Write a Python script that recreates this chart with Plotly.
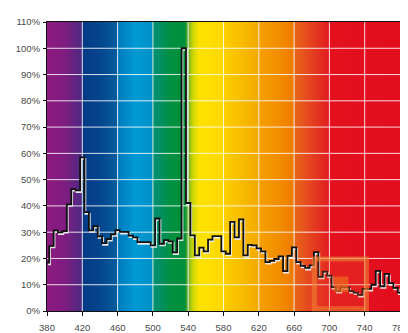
"""Spectral power distribution on a rainbow background."""

import numpy as np
import plotly.graph_objects as go

# relative intensity (%) in 5 nm bins, 380..780 nm
WAVELENGTHS = list(range(380, 781, 5))
INTENSITY = [
    18.4, 24.8, 30.7, 29.9, 30.4, 40.6, 46.4, 45.9, 58.5, 37.6,   # 380-425
    30.7, 32.3, 28.4, 25.8, 27.4, 29.2, 30.8, 30.1, 30.1, 28.7,   # 430-475
    28.0, 26.2, 26.2, 26.2, 25.0, 35.2, 25.6, 27.0, 26.5, 22.3,   # 480-525
    27.6, 100.0, 41.1, 28.8, 21.2, 24.1, 22.7, 27.2, 28.5, 28.5,  # 530-575
    22.7, 21.8, 33.9, 28.0, 34.9, 21.2, 25.2, 25.0, 23.8, 22.7,   # 580-625
    18.6, 19.1, 19.8, 20.8, 15.2, 21.0, 24.2, 18.6, 17.2, 16.4,   # 630-675
    17.4, 22.4, 13.0, 15.0, 13.5, 9.1, 7.6, 9.0, 9.0, 7.6,        # 680-725
    7.0, 6.1, 8.4, 8.4, 10.0, 15.3, 9.4, 14.1, 10.6, 8.8,         # 730-775
    7.0,                                                          # 780
]
assert len(WAVELENGTHS) == len(INTENSITY)

X_TICKS = list(range(380, 781, 40))
Y_TICKS = list(range(0, 111, 10))
Y_LABELS = [f"{v}%" for v in Y_TICKS]

# background spectrum: (nm, colour) stops, bands change at the 40 nm gridlines
SPECTRUM = [
    (380, "#8c1a80"), (400, "#801c80"), (419.4, "#4c2a82"),
    (420, "#063884"), (440, "#04458d"), (459.4, "#045c9c"),
    (460, "#0078bc"), (480, "#009ad4"), (499.4, "#0090c6"),
    (500, "#00907a"), (520, "#009040"), (536, "#008f3a"),
    (541, "#86b824"), (546, "#d2d800"), (552, "#fce200"),
    (579.4, "#ffd800"), (580, "#fdd000"), (600, "#f8bc00"),
    (619.4, "#f4a800"), (620, "#f5a000"), (640, "#f29000"),
    (659.4, "#ee7a00"), (660, "#e86818"), (680, "#e44020"),
    (699.4, "#e21c20"), (700, "#e3101e"), (780, "#e20e1e"),
]

bg_x = np.arange(380, 781, 1)
colorscale = [[(nm - 380) / 400, c] for nm, c in SPECTRUM]

fig = go.Figure()
fig.add_trace(go.Heatmap(
    x=bg_x, y=[0, 110], z=[bg_x, bg_x],
    colorscale=colorscale, zmin=380, zmax=780,
    showscale=False, hoverinfo="skip",
))

# white grid drawn over the background (heatmap hides the normal grid)
gx, gy = [], []
for t in X_TICKS[1:-1]:
    gx += [t, t, None]
    gy += [0, 110, None]
for t in Y_TICKS[1:-1]:
    gx += [380, 780, None]
    gy += [t, t, None]
fig.add_trace(go.Scatter(
    x=gx, y=gy, mode="lines", line=dict(color="rgba(255,255,255,0.85)", width=1),
    hoverinfo="skip", showlegend=False,
))

# light drop shadow under the step line
fig.add_trace(go.Scatter(
    x=[w + 1.0 for w in WAVELENGTHS], y=[v - 0.6 for v in INTENSITY],
    mode="lines", line=dict(color="rgba(240,240,240,0.95)", width=1.8, shape="hvh"),
    hoverinfo="skip", showlegend=False,
))
fig.add_trace(go.Scatter(
    x=WAVELENGTHS, y=INTENSITY,
    mode="lines", line=dict(color="#111111", width=1.8, shape="hvh"),
    hovertemplate="%{x} nm<br>%{y:.1f}%<extra></extra>", showlegend=False,
))

# partial logo in the lower right corner
fig.add_shape(type="rect", xref="paper", yref="paper", x0=0.757, x1=0.905, y0=0.008, y1=0.18,
              line=dict(color="rgba(240,130,50,0.6)", width=5),
              fillcolor="rgba(230,90,40,0.22)", layer="above")
fig.add_shape(type="rect", xref="paper", yref="paper", x0=0.813, x1=0.854, y0=0.065, y1=0.119,
              line=dict(width=0), fillcolor="rgba(240,110,30,0.65)", layer="above")
fig.add_shape(type="rect", xref="paper", yref="paper", x0=1.003, x1=1.03, y0=-0.05, y1=0.187,
              line=dict(width=0), fillcolor="#f6b68c", layer="above")

axis_font = dict(family="Liberation Sans, Arial, sans-serif", size=9.5, color="#4a4a4a")
fig.update_layout(
    width=408, height=333,
    margin=dict(l=36, r=8, t=10, b=13),
    paper_bgcolor="white", plot_bgcolor="white",
    showlegend=False,
    xaxis=dict(
        range=[380, 780], tickvals=X_TICKS, ticks="outside", ticklen=4, tickcolor="#111",
        showline=True, linecolor="#111", linewidth=1, mirror=True,
        showgrid=False, zeroline=False, tickfont=axis_font, ticklabelstandoff=4,
    ),
    yaxis=dict(
        range=[0, 110], tickvals=Y_TICKS, ticktext=Y_LABELS, ticks="outside", ticklen=3,
        tickcolor="#111", showline=True, linecolor="#111", linewidth=1, mirror=True,
        showgrid=False, zeroline=False, tickfont=axis_font, ticklabelstandoff=1,
    ),
)

fig.write_html("out.html")
